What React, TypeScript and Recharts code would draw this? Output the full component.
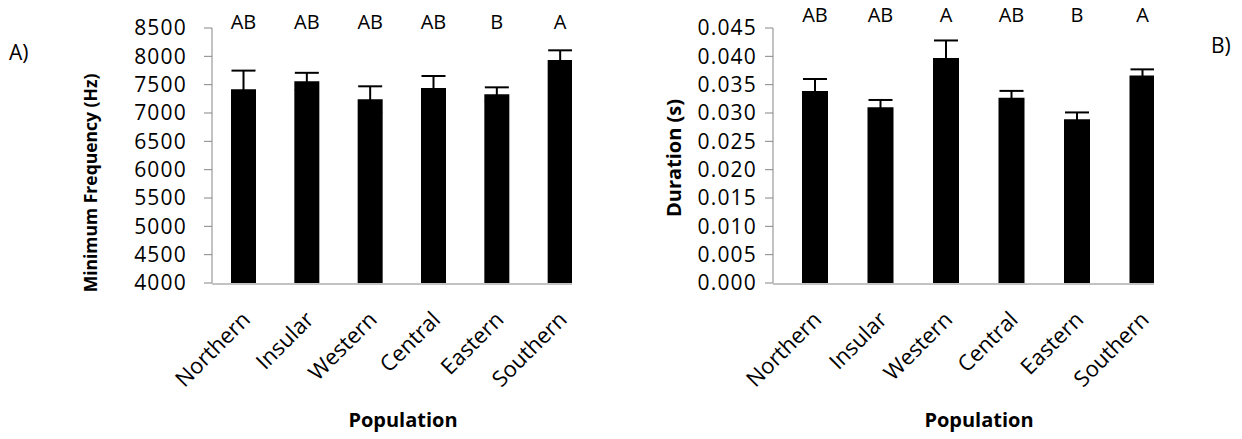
import { Bar, BarChart, ErrorBar, LabelList, XAxis, YAxis } from "recharts";

const POPULASI = ["Northern", "Insular", "Western", "Central", "Eastern", "Southern"];

const FREK_RATA = [7418, 7559, 7241, 7441, 7330, 7935];
const FREK_SE = [330, 150, 230, 212, 123, 171];
const FREK_GRUP = ["AB", "AB", "AB", "AB", "B", "A"];
const FREK_TICKS = [4000, 4500, 5000, 5500, 6000, 6500, 7000, 7500, 8000, 8500];

const DURASI_RATA = [0.0339, 0.031, 0.0397, 0.0327, 0.0289, 0.0366];
const DURASI_SE = [0.0021, 0.0013, 0.0031, 0.0012, 0.0012, 0.0011];
const DURASI_GRUP = ["AB", "AB", "A", "AB", "B", "A"];
const DURASI_TICKS = [0, 0.005, 0.01, 0.015, 0.02, 0.025, 0.03, 0.035, 0.04, 0.045];

const BATAS = [0, 1, 2, 3, 4, 5, 6];

const FONT = "'Open Sans', sans-serif";
const ABU = "#868686";

const dataFrek = POPULASI.map((p, i) => ({ pop: p, idx: i + 0.5, nilai: FREK_RATA[i], err: FREK_SE[i], grup: FREK_GRUP[i] }));
const dataDurasi = POPULASI.map((p, i) => ({ pop: p, idx: i + 0.5, nilai: DURASI_RATA[i], err: DURASI_SE[i], grup: DURASI_GRUP[i] }));

function TickMiring({ x, y, payload }: any) {
  const ax = x + 8;
  const ay = y + 37;
  return (
    <text x={ax} y={ay} transform={`rotate(-45, ${ax}, ${ay})`} textAnchor="end" fontSize={22} fontFamily={FONT} fill="#000">
      {payload.value}
    </text>
  );
}

function Panel({
  data,
  ticks,
  domain,
  fmt,
  kiri,
  padKiri,
  lebar,
  barSize,
  yGrup,
  tickMargin,
}: {
  data: any[];
  ticks: number[];
  domain: [number, number];
  fmt: (v: number) => string;
  kiri: number;
  padKiri: number;
  lebar: number;
  barSize: number;
  yGrup: number;
  tickMargin: number;
}) {
  return (
    <BarChart width={kiri + lebar + 8} height={439} data={data} margin={{ top: 28, right: 8, bottom: 154, left: kiri - 60 }}>
      <XAxis
        xAxisId="cat"
        dataKey="pop"
        height={1}
        tickLine={false}
        tickSize={0}
        tickMargin={0}
        axisLine={{ stroke: ABU, strokeWidth: 1 }}
        padding={{ left: padKiri, right: 0 }}
        interval={0}
        tick={<TickMiring />}
      />
      <XAxis
        xAxisId="batas"
        type="number"
        dataKey="idx"
        domain={[0, 6]}
        ticks={BATAS}
        allowDataOverflow
        height={1}
        tick={false}
        axisLine={false}
        tickSize={8}
        tickLine={{ stroke: ABU, strokeWidth: 1 }}
        padding={{ left: padKiri, right: 0 }}
      />
      <YAxis
        width={60}
        domain={domain}
        ticks={ticks}
        interval={0}
        allowDataOverflow
        tickFormatter={fmt}
        tickSize={8}
        tickMargin={tickMargin}
        tickLine={{ stroke: ABU }}
        axisLine={{ stroke: ABU }}
        tick={{ fill: "#000", fontSize: 21, fontFamily: FONT, letterSpacing: 1.2 }}
      />
      <Bar xAxisId="cat" dataKey="nilai" fill="#000" barSize={barSize} isAnimationActive={false}>
        <ErrorBar dataKey="err" width={12} strokeWidth={2} stroke="#000" direction="y" isAnimationActive={false} />
        <LabelList
          dataKey="grp"
          content={(p: any) => (
            <text x={p.x + p.width / 2} y={yGrup} textAnchor="middle" fontSize={20} fontFamily={FONT} fill="#000">
              {data[p.index]?.grup}
            </text>
          )}
        />
      </Bar>
    </BarChart>
  );
}

export default function App() {
  return (
    <div style={{ position: "absolute", left: 0, top: 0, width: 1242, height: 439, background: "#fff", fontFamily: FONT, overflow: "hidden" }}>
      <div style={{ position: "absolute", left: 0, top: 0 }}>
        <Panel
          data={dataFrek}
          ticks={FREK_TICKS}
          domain={[4000, 8500]}
          fmt={(v) => String(v)}
          kiri={212}
          padKiri={0}
          lebar={380}
          barSize={25}
          yGrup={29}
          tickMargin={17}
        />
      </div>
      <div style={{ position: "absolute", left: 572, top: 0 }}>
        <Panel
          data={dataDurasi}
          ticks={DURASI_TICKS}
          domain={[0, 0.045]}
          fmt={(v) => v.toFixed(3)}
          kiri={201}
          padKiri={9}
          lebar={402}
          barSize={26}
          yGrup={22}
          tickMargin={8}
        />
      </div>
      <svg style={{ position: "absolute", left: 0, top: 0, pointerEvents: "none" }} width={1242} height={439}>
        {/* potongan tepi kanan plot, seperti pada gambar asli */}
        <rect x={572} y={0} width={40} height={296} fill="#fff" />
        <rect x={1154} y={0} width={40} height={296} fill="#fff" />
        <text x={9} y={60} fontSize={21} fontFamily={FONT} fill="#000">A)</text>
        <text x={1211} y={53} fontSize={21} fontFamily={FONT} fill="#000">B)</text>
        <text
          x={90}
          y={183}
          transform="rotate(-90, 90, 183)"
          textAnchor="middle"
          dominantBaseline="central"
          fontSize={17.5}
          fontWeight="bold"
          fontFamily={FONT}
          fill="#000"
        >
          Minimum Frequency (Hz)
        </text>
        <text x={403} y={427} textAnchor="middle" fontSize={20} fontWeight="bold" fontFamily={FONT} fill="#000">
          Population
        </text>
        <text
          x={673}
          y={158}
          transform="rotate(-90, 673, 158)"
          textAnchor="middle"
          dominantBaseline="central"
          fontSize={20}
          fontWeight="bold"
          fontFamily={FONT}
          fill="#000"
        >
          Duration (s)
        </text>
        <text x={979} y={427} textAnchor="middle" fontSize={20} fontWeight="bold" fontFamily={FONT} fill="#000">
          Population
        </text>
      </svg>
    </div>
  );
}
